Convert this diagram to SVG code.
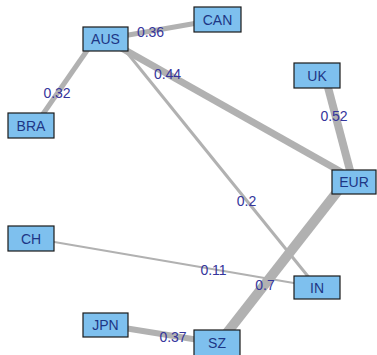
<svg xmlns="http://www.w3.org/2000/svg" width="377" height="355" viewBox="0 0 377 355">
  <style>
    .edge { stroke: #b1b1b1; fill: none; stroke-linecap: butt; }
    .elabel { font-family: "Liberation Sans", Arial, sans-serif; font-size: 14px; fill: #35359c; text-anchor: middle; }
    .box { fill: #7ec0ee; stroke: #1a1a1a; stroke-width: 1.2; }
    .nlabel { font-family: "Liberation Sans", Arial, sans-serif; font-size: 14px; fill: #1d3685; text-anchor: middle; }
  </style>
  <rect width="377" height="355" fill="#ffffff"/>

  <!-- weighted links, width follows the weight -->
  <g id="connectors">
    <line class="edge" x1="105.5" y1="39" x2="217.5" y2="19.5" stroke-width="5"/>
    <line class="edge" x1="95" y1="39" x2="35" y2="125.5" stroke-width="5"/>
    <line class="edge" x1="105.5" y1="39" x2="352" y2="178" stroke-width="7"/>
    <line class="edge" x1="116" y1="39" x2="317" y2="287.5" stroke-width="3"/>
    <line class="edge" x1="325" y1="76" x2="352" y2="178" stroke-width="8"/>
    <line class="edge" x1="31" y1="238" x2="317" y2="287" stroke-width="2"/>
    <line class="edge" x1="348" y1="178" x2="219" y2="343" stroke-width="10"/>
    <line class="edge" x1="105.5" y1="325" x2="217.5" y2="343" stroke-width="6"/>

    <text class="elabel" x="150.5" y="36.5">0.36</text>
    <text class="elabel" x="57" y="97.5">0.32</text>
    <text class="elabel" x="167.5" y="79">0.44</text>
    <text class="elabel" x="246.5" y="206">0.2</text>
    <text class="elabel" x="334" y="121">0.52</text>
    <text class="elabel" x="213.5" y="275">0.11</text>
    <text class="elabel" x="265" y="290">0.7</text>
    <text class="elabel" x="173" y="342">0.37</text>
  </g>

  <g id="AUS"><rect class="box" x="83" y="27" width="45" height="24"/><text class="nlabel" x="105.5" y="44">AUS</text></g>
  <g id="CAN"><rect class="box" x="194" y="7" width="47" height="25"/><text class="nlabel" x="217.5" y="24.5">CAN</text></g>
  <g id="BRA"><rect class="box" x="8" y="113" width="46" height="25"/><text class="nlabel" x="31" y="130.5">BRA</text></g>
  <g id="UK"><rect class="box" x="294" y="63" width="46" height="25"/><text class="nlabel" x="317" y="80.5">UK</text></g>
  <g id="EUR"><rect class="box" x="332" y="170" width="44" height="24"/><text class="nlabel" x="354" y="187">EUR</text></g>
  <g id="CH"><rect class="box" x="8" y="226" width="46" height="25"/><text class="nlabel" x="31" y="243.5">CH</text></g>
  <g id="IN"><rect class="box" x="294" y="276" width="46" height="23"/><text class="nlabel" x="317" y="292.5">IN</text></g>
  <g id="JPN"><rect class="box" x="83" y="313" width="45" height="24"/><text class="nlabel" x="105.5" y="330">JPN</text></g>
  <g id="SZ"><rect class="box" x="194" y="330" width="46" height="26"/><text class="nlabel" x="217" y="348">SZ</text></g>
</svg>
